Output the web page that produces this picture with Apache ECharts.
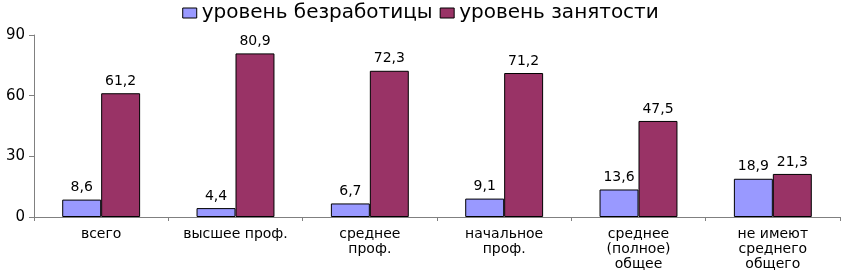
<!DOCTYPE html>
<html><head><meta charset="utf-8">
<script src="https://cdn.jsdelivr.net/npm/echarts@6/dist/echarts.min.js"></script>
<style>html,body{margin:0;padding:0;background:#fff}#c{width:841px;height:273px}</style>
</head><body><div id="c"></div>
<script>
var categories = ["всего", "высшее проф.", "среднее\nпроф.", "начальное\nпроф.", "среднее\n(полное)\nобщее", "не имеют\nсреднего\nобщего"];
var unemployment = [8.6, 4.4, 6.7, 9.1, 13.6, 18.9];
var employment = [61.2, 80.9, 72.3, 71.2, 47.5, 21.3];
var seriesNames = ["уровень безработицы", "уровень занятости"];
var yTicks = [0, 30, 60, 90];

var FONT = 'DejaVu Sans';
var chart = echarts.init(document.getElementById('c'));
var lbl = {show:true, position:'top', distance:5, color:'#000', fontFamily:FONT, fontSize:14,
  formatter:function(p){return String(p.value).replace('.', ',');}};
chart.setOption({
  animation:false,
  textStyle:{fontFamily:FONT},
  legend:{top:-2, left:'center', itemWidth:14, itemHeight:10, itemGap:7,
    itemStyle:{borderColor:'#000', borderWidth:1},
    textStyle:{fontSize:20, color:'#000', fontFamily:FONT, padding:[0,0,0,0]}, data:seriesNames, icon:'rect'},
  grid:{left:34, right:1, top:35, bottom:56, containLabel:false, outerBoundsMode:'none'},
  xAxis:{type:'category', data:categories,
    axisLine:{lineStyle:{color:'#808080'}},
    axisTick:{show:true, length:4, lineStyle:{color:'#808080'}},
    axisLabel:{color:'#000', fontSize:14, fontFamily:FONT, lineHeight:15, margin:10, interval:0}},
  yAxis:{type:'value', min:yTicks[0], max:yTicks[yTicks.length-1], interval:30,
    splitLine:{show:false},
    axisLine:{show:true, lineStyle:{color:'#808080'}},
    axisTick:{show:true, length:5, lineStyle:{color:'#808080'}},
    axisLabel:{color:'#000', fontSize:15, fontFamily:FONT, margin:9}},
  series:[
    {name:seriesNames[0], type:'bar', data:unemployment, barGap:'0%', barCategoryGap:'42%',
     itemStyle:{color:'#9999FF', borderColor:'#000', borderWidth:1, borderRadius:0}, label:lbl},
    {name:seriesNames[1], type:'bar', data:employment, barGap:'0%', barCategoryGap:'42%',
     itemStyle:{color:'#993366', borderColor:'#000', borderWidth:1, borderRadius:0}, label:lbl}
  ]
});
</script></body></html>
